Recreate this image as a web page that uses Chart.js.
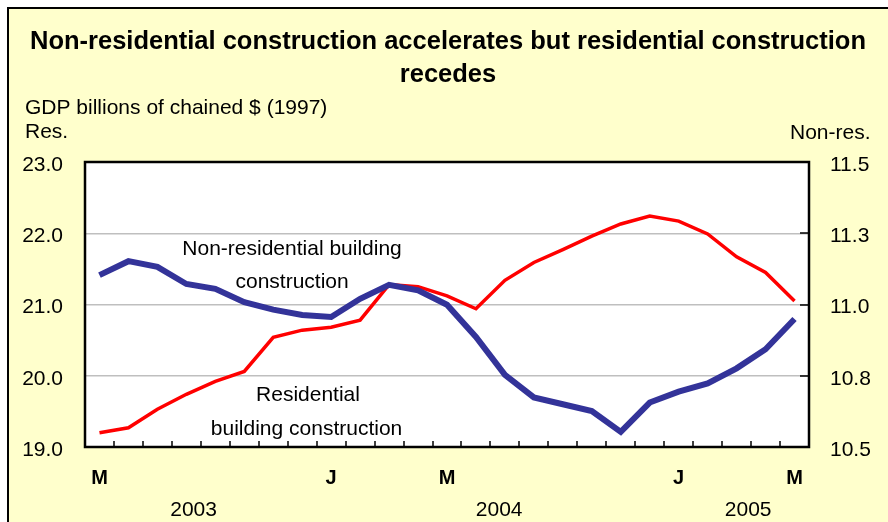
<!DOCTYPE html>
<html>
<head>
<meta charset="utf-8">
<title>Construction GDP</title>
<script src="https://cdn.jsdelivr.net/npm/chart.js@4.4.1/dist/chart.umd.min.js"></script>
<style>
    html, body { margin: 0; padding: 0; background: #ffffff; }
    canvas { display: block; }
</style>
</head>
<body>
<canvas id="constructionChart" width="888" height="522"></canvas>
<script>
// Monthly data, May 2003 to May 2005
const months = [
    'May 2003', 'Jun 2003', 'Jul 2003', 'Aug 2003', 'Sep 2003', 'Oct 2003', 'Nov 2003', 'Dec 2003',
    'Jan 2004', 'Feb 2004', 'Mar 2004', 'Apr 2004', 'May 2004', 'Jun 2004', 'Jul 2004', 'Aug 2004',
    'Sep 2004', 'Oct 2004', 'Nov 2004', 'Dec 2004',
    'Jan 2005', 'Feb 2005', 'Mar 2005', 'Apr 2005', 'May 2005'
];
const monthTicks = ['M', '', '', '', '', '', '', '', 'J', '', '', '', 'M', '', '', '', '', '', '', '', 'J', '', '', '', 'M'];

// Residential (left axis)
const residential = [
    19.20, 19.27, 19.53, 19.74, 19.92, 20.06, 20.54, 20.64, 20.68, 20.78,
    21.28, 21.25, 21.12, 20.94, 21.34, 21.59, 21.77, 21.96, 22.13, 22.24,
    22.17, 21.99, 21.67, 21.45, 21.05
];
// Non-residential (right axis)
const nonResidential = [
    11.103, 11.152, 11.132, 11.072, 11.055, 11.008, 10.982, 10.963, 10.956, 11.020,
    11.069, 11.050, 10.999, 10.886, 10.753, 10.674, 10.650, 10.626, 10.553, 10.656,
    10.694, 10.723, 10.776, 10.843, 10.949
];

const years = ['2003', '2004', '2005'];
const yearPositions = [3.25, 13.8, 22.4];   // in category units

const fontFamily = '"Liberation Sans", Arial, Helvetica, sans-serif';
Chart.defaults.font.family = fontFamily;
Chart.defaults.color = '#000000';

// background, title, frame, inward ticks and text labels
const decorPlugin = {
    id: 'decor',
    beforeDraw(chart) {
        const ctx = chart.ctx;
        ctx.save();
        ctx.fillStyle = '#ffffff';
        ctx.fillRect(0, 0, chart.width, chart.height);
        ctx.fillStyle = '#FFFFCC';
        ctx.fillRect(9, 9, chart.width, chart.height);
        ctx.strokeStyle = '#000000';
        ctx.lineWidth = 2;
        ctx.beginPath();
        ctx.moveTo(8, chart.height + 5);
        ctx.lineTo(8, 8);
        ctx.lineTo(chart.width + 5, 8);
        ctx.stroke();

        const area = chart.chartArea;
        ctx.fillStyle = '#ffffff';
        ctx.fillRect(area.left, area.top, area.right - area.left, area.bottom - area.top);

        // titles
        ctx.fillStyle = '#000000';
        ctx.textBaseline = 'middle';
        ctx.textAlign = 'center';
        ctx.font = 'bold 25.5px ' + fontFamily;
        ctx.fillText('Non-residential construction accelerates but residential construction', 448, 42);
        ctx.fillText('recedes', 448, 75);

        ctx.textAlign = 'left';
        ctx.font = '21px ' + fontFamily;
        ctx.fillText('GDP billions of chained $ (1997)', 25, 108);
        ctx.fillText('Res.', 25, 132);
        ctx.fillText('Non-res.', 790, 133);
        ctx.restore();
    },
    afterDraw(chart) {
        const ctx = chart.ctx;
        const area = chart.chartArea;
        const x = chart.scales.x;
        const y1 = chart.scales.y1;
        ctx.save();
        ctx.strokeStyle = '#000000';
        ctx.lineWidth = 1.5;
        ctx.beginPath();
        for (let i = 0; i < months.length - 1; i++) {
            const px = Math.round(x.getPixelForValue(i + 0.5));
            ctx.moveTo(px, area.bottom);
            ctx.lineTo(px, area.bottom - 6);
        }
        [10.75, 11, 11.25].forEach(v => {
            const py = Math.round(y1.getPixelForValue(v));
            ctx.moveTo(area.right, py);
            ctx.lineTo(area.right - 9, py);
        });
        ctx.stroke();

        ctx.lineWidth = 2.5;
        ctx.strokeRect(area.left, area.top, area.right - area.left, area.bottom - area.top);

        // year labels
        ctx.fillStyle = '#000000';
        ctx.textAlign = 'center';
        ctx.textBaseline = 'middle';
        ctx.font = '21px ' + fontFamily;
        years.forEach((yr, i) => {
            ctx.fillText(yr, x.getPixelForValue(yearPositions[i]), 510);
        });

        // series annotations
        const y = chart.scales.y;
        ctx.fillText('Non-residential building', x.getPixelForValue(6.65), y.getPixelForValue(21.77));
        ctx.fillText('construction', x.getPixelForValue(6.65), y.getPixelForValue(21.31));
        ctx.fillText('Residential', x.getPixelForValue(7.2), y.getPixelForValue(19.73));
        ctx.fillText('building construction', x.getPixelForValue(7.15), y.getPixelForValue(19.25));
        ctx.restore();
    }
};

const ctx = document.getElementById('constructionChart').getContext('2d');

new Chart(ctx, {
    type: 'line',
    data: {
        labels: months,
        datasets: [{
            label: 'Non-residential building construction',
            data: nonResidential,
            yAxisID: 'y1',
            borderColor: '#333399',
            borderWidth: 6,
            pointRadius: 0,
            tension: 0,
            order: 1
        }, {
            label: 'Residential building construction',
            data: residential,
            yAxisID: 'y',
            borderColor: '#FF0000',
            borderWidth: 3.5,
            pointRadius: 0,
            tension: 0,
            order: 2
        }]
    },
    options: {
        responsive: false,
        animation: false,
        layout: { padding: { top: 162, left: 0, right: 0, bottom: 0 } },
        plugins: {
            legend: { display: false },
            tooltip: { enabled: false }
        },
        scales: {
            x: {
                offset: true,
                grid: { display: false, drawTicks: false },
                border: { display: false },
                afterFit: scale => { scale.height = 75; },
                ticks: {
                    autoSkip: false,
                    maxRotation: 0,
                    padding: 19,
                    font: { size: 20, weight: 'bold' },
                    callback: (val, i) => monthTicks[i]
                }
            },
            y: {
                position: 'left',
                min: 19,
                max: 23,
                afterFit: scale => { scale.width = 85; },
                grid: {
                    drawTicks: false,
                    lineWidth: 1.5,
                    color: c => (c.tick && (c.tick.value === 19 || c.tick.value === 23)) ? 'rgba(0,0,0,0)' : '#BFBFBF'
                },
                border: { display: false },
                ticks: {
                    stepSize: 1,
                    padding: 22,
                    labelOffset: 3,
                    font: { size: 21 },
                    callback: v => v.toFixed(1)
                }
            },
            y1: {
                position: 'right',
                min: 10.5,
                max: 11.5,
                afterFit: scale => { scale.width = 79; },
                grid: { display: false, drawTicks: false },
                border: { display: false },
                ticks: {
                    stepSize: 0.25,
                    padding: 21,
                    labelOffset: 3,
                    font: { size: 21 },
                    callback: v => v.toFixed(1)
                }
            }
        }
    },
    plugins: [decorPlugin]
});
</script>
</body>
</html>
